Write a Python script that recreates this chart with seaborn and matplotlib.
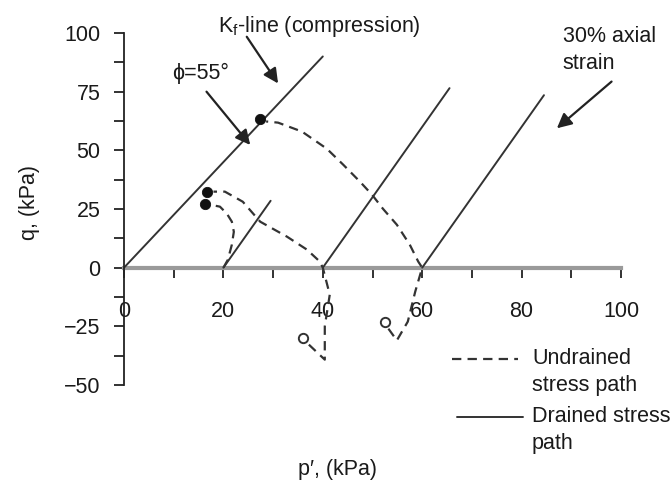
import matplotlib
matplotlib.use("Agg")
import matplotlib.pyplot as plt
import seaborn as sns
import pandas as pd
from matplotlib.lines import Line2D
from matplotlib.ticker import MultipleLocator

# ---------------- data ----------------
kf_p = [0, 40]
kf_q = [0, 90]

drained_20_p = [20, 29.5]
drained_20_q = [0, 28.5]
drained_40_p = [40, 65.5]
drained_40_q = [0, 76.5]
drained_60_p = [60, 84.5]
drained_60_q = [0, 73.5]

undrained_20_p = [20, 20.9, 21.7, 22.1, 21.7, 20.7, 19.3, 17.4]
undrained_20_q = [0, 3.4, 9.8, 15.3, 19.6, 23.0, 26.0, 26.8]

undrained_40_p = [37.2, 40.4, 40.4, 41.4, 40.0, 39.4, 36.8, 32.8, 27.4, 23.9, 20.3, 18.0]
undrained_40_q = [-32.8, -39.2, -25.0, -11.5, 0, 2.6, 7.7, 13.2, 19.6, 28.1, 32.4, 32.4]

undrained_60_p = [53.2, 54.9, 57.1, 58.6, 60.0, 59.2, 57.5, 54.9, 52.1, 49.9, 47.5, 44.1, 40.8, 35.8, 31.0, 28.6]
undrained_60_q = [-26.0, -31.0, -23.0, -10.2, 0, 2.6, 9.8, 18.3, 25.1, 31.1, 36.6, 43.9, 50.7, 58.0, 61.8, 62.3]

failure_p = [16.2, 16.6, 27.4]
failure_q = [27.0, 32.4, 63.5]

start_p = [36.1, 52.5]
start_q = [-30.1, -23.0]

x_ticks = [0, 20, 40, 60, 80, 100]
y_ticks = [-50, -25, 0, 25, 50, 75, 100]

# ---------------- style ----------------
sns.set_style("white")
plt.rcParams["font.family"] = ["Liberation Sans", "DejaVu Sans"]
plt.rcParams["mathtext.fontset"] = "custom"
plt.rcParams["mathtext.rm"] = "Liberation Sans"
plt.rcParams["mathtext.it"] = "Liberation Sans"

FS = 15.5
LC = "#333333"
TC = "#1a1a1a"

fig = plt.figure(figsize=(6.72, 4.84), dpi=100)
ax = fig.add_axes([124 / 672, 1 - 385 / 484, 497 / 672, 352 / 484])

dash = (0, (4.2, 2.8))

def solid(p, q):
    sns.lineplot(x=p, y=q, ax=ax, sort=False, color=LC, lw=1.4, estimator=None)

def dashed(p, q):
    sns.lineplot(x=p, y=q, ax=ax, sort=False, color=LC, lw=1.6, linestyle=dash, estimator=None)

solid(kf_p, kf_q)
solid(drained_20_p, drained_20_q)
solid(drained_40_p, drained_40_q)
solid(drained_60_p, drained_60_q)
dashed(undrained_20_p, undrained_20_q)
dashed(undrained_40_p, undrained_40_q)
dashed(undrained_60_p, undrained_60_q)

sns.scatterplot(x=failure_p, y=failure_q, ax=ax, color="#111111", s=55, edgecolor="#111111", zorder=5)
sns.scatterplot(x=start_p, y=start_q, ax=ax, facecolor="white", edgecolor="#333333", s=45, linewidth=1.4, zorder=5)

ax.set_xlim(0, 100)
ax.set_ylim(-50, 100)

# spines
for s in ["top", "right"]:
    ax.spines[s].set_visible(False)
ax.spines["bottom"].set_position(("data", 0))
ax.spines["bottom"].set_color("#9a9a9a")
ax.spines["bottom"].set_linewidth(3)
ax.spines["bottom"].set_zorder(1)
ax.spines["left"].set_color("#222222")
ax.spines["left"].set_linewidth(1.3)

ax.set_xticks(x_ticks)
ax.set_yticks(y_ticks)
ax.xaxis.set_minor_locator(MultipleLocator(10))
ax.yaxis.set_minor_locator(MultipleLocator(12.5))
ax.tick_params(axis="x", which="both", bottom=True, direction="out", length=7, width=1.3, color="#222222",
               pad=17, labelsize=FS, labelcolor=TC)
ax.tick_params(axis="y", which="both", left=True, direction="out", length=7, width=1.3, color="#222222",
               pad=10, labelsize=FS, labelcolor=TC)
ax.tick_params(which="minor", labelleft=False, labelbottom=False)
ax.set_xticklabels([str(v) for v in x_ticks])
ax.set_yticklabels([f"{v}".replace("-", "\u2212") for v in y_ticks])
ax.set_xlabel("")
ax.set_ylabel("")

# axis titles
fig.text(338 / 672, 1 - 470 / 484, "p\u2032, (kPa)", ha="center", va="center", fontsize=FS, color=TC)
fig.text(30 / 672, 1 - 203 / 484, "q, (kPa)", ha="center", va="center", fontsize=FS, color=TC, rotation=90)

# annotations
arrow = dict(arrowstyle="-|>", color="#222222", lw=1.6, mutation_scale=22, shrinkA=0, shrinkB=0)
ax.text(39.4, 102.7, r"K$_\mathrm{f}$-line (compression)", ha="center", va="center", fontsize=FS,
        color=TC, clip_on=False)
ax.annotate("", xy=(31.0, 78.5), xytext=(24.7, 98.4), arrowprops=arrow, annotation_clip=False)

ax.text(9.7, 82.7, "\u03d5=55\u00b0", ha="left", va="center", fontsize=FS, color=TC, clip_on=False,
        family=["Liberation Sans", "DejaVu Sans"])
ax.annotate("", xy=(25.4, 52.3), xytext=(16.6, 75.0), arrowprops=arrow, annotation_clip=False)

ax.text(88.3, 98.4, "30% axial", ha="left", va="center", fontsize=FS, color=TC, clip_on=False)
ax.text(88.3, 86.9, "strain", ha="left", va="center", fontsize=FS, color=TC, clip_on=False)
ax.annotate("", xy=(87.1, 59.4), xytext=(98.1, 79.3), arrowprops=arrow, annotation_clip=False)

# key
fig.add_artist(Line2D([452 / 672, 518 / 672], [1 - 359 / 484] * 2, transform=fig.transFigure,
                      color=LC, lw=1.6, linestyle=dash))
fig.add_artist(Line2D([457 / 672, 523 / 672], [1 - 417 / 484] * 2, transform=fig.transFigure,
                      color=LC, lw=1.4))
for txt, ypx in [("Undrained", 358), ("stress path", 385), ("Drained stress", 417), ("path", 444)]:
    fig.text(532 / 672, 1 - ypx / 484, txt, ha="left", va="center", fontsize=FS, color=TC)

fig.savefig("out.png", dpi=100)
